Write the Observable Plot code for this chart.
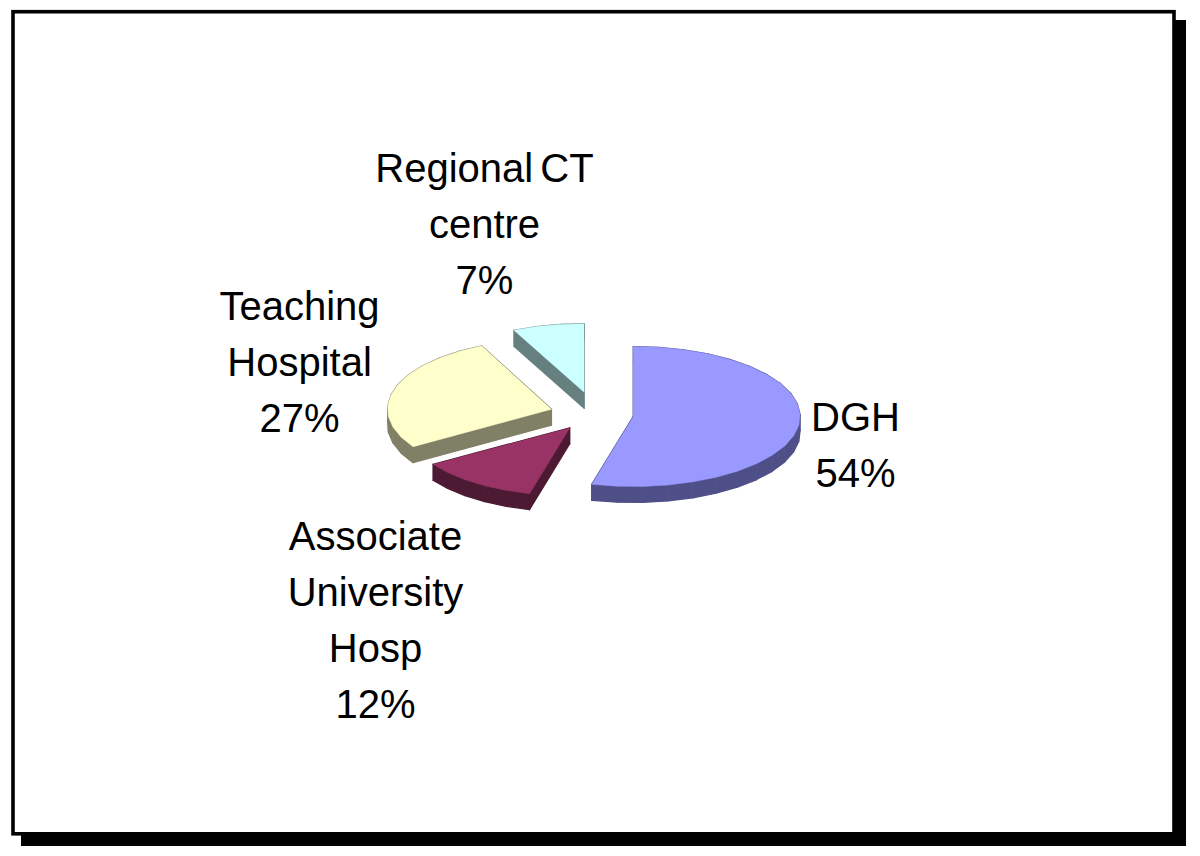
<!DOCTYPE html>
<html>
<head>
<meta charset="utf-8">
<style>html,body{margin:0;padding:0;background:#fff}svg{display:block}</style>
<script src="https://cdn.jsdelivr.net/npm/d3@7"></script>
<script src="https://cdn.jsdelivr.net/npm/@observablehq/plot@0.6"></script>
</head>
<body>
<div id="chart"></div>
<script>
const categories = ["DGH", "Associate\nUniversity\nHosp", "Teaching\nHospital", "Regional CT\ncentre"];
const shares = [54, 12, 27, 7];
const topColors = ["#9999ff", "#993366", "#ffffcc", "#ccffff"];
const sideColors = ["#4f4f88", "#4d1a33", "#808066", "#668080"];

// Layout of the exploded pie, in picture units
const centre = [632.7, 416], depth = 16;
const radiiX = [167, 162, 164, 165];
const radiiY = [70, 68, 70, 68.5];
const explode = [[0, 0], [-63.4, 11.3], [-81.7, -7.3], [-49, -24.3]];
const labelAt = [[855, 441], [375, 616], [299, 358], [484, 220]];
const fontSize = 40, lineGap = 56;

const arcs = d3.pie().sort(null).value(d => d)(shares);
const TAU = Math.PI * 2;
const slices = arcs.map((a, i) => {
  const cx = centre[0] + explode[i][0], cy = centre[1] + explode[i][1];
  const steps = Math.max(2, Math.round((a.endAngle - a.startAngle) / (TAU / 40)));
  const rim = d3.range(steps + 1).map(k => {
    const t = a.startAngle + (a.endAngle - a.startAngle) * k / steps;
    return {x: cx + radiiX[i] * Math.sin(t), y: cy - radiiY[i] * Math.cos(t)};
  });
  return {i, outline: [{x: cx, y: cy}, ...rim]};
});

const sideQuads = s => s.outline.flatMap((p, k) => {
  const q = s.outline[(k + 1) % s.outline.length];
  return [p, q, {x: q.x, y: q.y + depth}, {x: p.x, y: p.y + depth}].map(v => ({...v, q: k}));
});

const labels = categories.map((c, i) => ({
  text: `${c}\n${shares[i]}%`, x: labelAt[i][0], y: labelAt[i][1]
}));

const paper = [{x1: 13, x2: 1174, y1: 11.7, y2: 833.8}];
const shadow = [{x1: 21, x2: 1186, y1: 20, y2: 846}];
const order = [3, 2, 1, 0];

const plot = Plot.plot({
  width: 1200, height: 856,
  margin: 0,
  x: {domain: [0, 1200], range: [0, 1200], axis: null},
  y: {domain: [0, 856], range: [0, 856], axis: null},
  style: {background: "#fff", wordSpacing: "-4px"},
  marks: [
    Plot.rect(shadow, {x1: "x1", x2: "x2", y1: "y1", y2: "y2", fill: "#000"}),
    Plot.rect(paper, {x1: "x1", x2: "x2", y1: "y1", y2: "y2", fill: "#fff", stroke: "#000", strokeWidth: 3.6}),
    ...order.flatMap(i => [
      Plot.line(sideQuads(slices[i]), {x: "x", y: "y", z: "q", fill: sideColors[i], stroke: sideColors[i], strokeWidth: 1.2, curve: "linear"}),
      Plot.line(slices[i].outline, {x: "x", y: "y", fill: topColors[i], stroke: topColors[i], strokeWidth: 0.5, curve: "linear"})
    ]),
    Plot.text(labels, {
      x: "x", y: "y", text: "text",
      fontFamily: "Liberation Sans", fontSize,
      lineHeight: lineGap / fontSize,
      textAnchor: "middle", lineAnchor: "middle", fill: "#000"
    })
  ]
});
document.getElementById("chart").appendChild(plot);
</script>
</body>
</html>
